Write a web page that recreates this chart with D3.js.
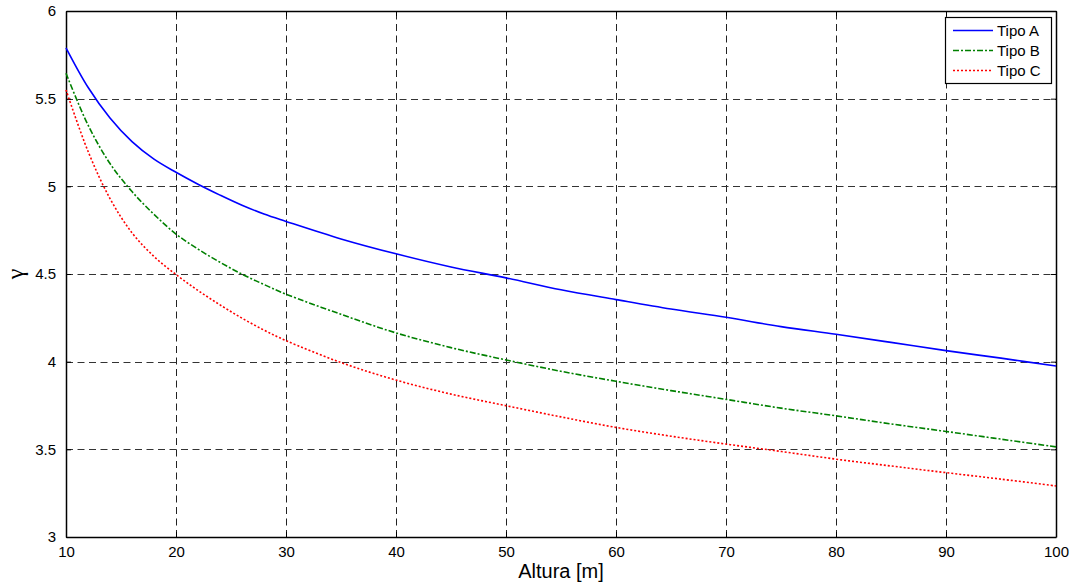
<!DOCTYPE html>
<html>
<head>
<meta charset="utf-8">
<script src="https://cdn.jsdelivr.net/npm/d3@7"></script>
<style>
  body { margin: 0; background: #fff; }
  text { font-family: "Liberation Sans", Arial, sans-serif; }
</style>
</head>
<body>
<div id="chart"></div>
<script>
var width = 1072, height = 586;
var margin = {left: 66, right: 16, top: 11, bottom: 49};

// alturas (m)
var altura = [10, 12, 14, 16, 18, 20, 22, 24, 26, 28, 30, 35, 40, 45, 50, 55, 60, 65, 70, 75, 80, 85, 90, 95, 100];
var tipoA = [5.79, 5.565, 5.39, 5.255, 5.155, 5.08, 5.012, 4.95, 4.892, 4.842, 4.80, 4.70, 4.615, 4.54, 4.478, 4.41, 4.354, 4.30, 4.253, 4.20, 4.156, 4.11, 4.063, 4.02, 3.975];
var tipoB = [5.645, 5.35, 5.13, 4.97, 4.84, 4.728, 4.642, 4.567, 4.499, 4.44, 4.385, 4.27, 4.164, 4.08, 4.01, 3.945, 3.888, 3.835, 3.785, 3.735, 3.691, 3.645, 3.602, 3.558, 3.514];
var tipoC = [5.55, 5.20, 4.93, 4.735, 4.60, 4.497, 4.406, 4.324, 4.248, 4.18, 4.12, 3.995, 3.895, 3.815, 3.749, 3.685, 3.625, 3.575, 3.53, 3.488, 3.444, 3.405, 3.367, 3.33, 3.291];
var xTicks = [10, 20, 30, 40, 50, 60, 70, 80, 90, 100];
var yTicks = [3, 3.5, 4, 4.5, 5, 5.5, 6];
var names = ["Tipo A", "Tipo B", "Tipo C"];

var series = [
  {name: names[0], values: tipoA, color: "#0000ff", dash: null},
  {name: names[1], values: tipoB, color: "#008000", dash: "6,2,2,2"},
  {name: names[2], values: tipoC, color: "#ff0000", dash: "2,2"}
];

var svg = d3.select("#chart").append("svg")
  .attr("width", width)
  .attr("height", height);

var x = d3.scaleLinear().domain([10, 100]).range([margin.left, width - margin.right]);
var y = d3.scaleLinear().domain([3, 6]).range([height - margin.bottom, margin.top]);

// grid
svg.append("g").selectAll("line").data(xTicks.slice(1, -1)).enter().append("line")
  .attr("x1", d => Math.round(x(d)) + 0.5).attr("x2", d => Math.round(x(d)) + 0.5)
  .attr("y1", y(3)).attr("y2", y(6))
  .attr("stroke", "#222").attr("stroke-dasharray", "7,4.5");
svg.append("g").selectAll("line").data(yTicks.slice(1, -1)).enter().append("line")
  .attr("y1", d => Math.round(y(d)) + 0.5).attr("y2", d => Math.round(y(d)) + 0.5)
  .attr("x1", x(10)).attr("x2", x(100))
  .attr("stroke", "#333").attr("stroke-dasharray", "7,4.5");

// axes (ticks inside, like matlab)
var fmt = d3.format("");
svg.append("g").attr("transform", "translate(0," + y(3) + ")")
  .call(d3.axisBottom(x).tickValues(xTicks).tickSizeInner(-5).tickSizeOuter(0).tickPadding(9).tickFormat(fmt));
svg.append("g").attr("transform", "translate(0," + y(6) + ")")
  .call(d3.axisTop(x).tickValues(xTicks).tickSizeInner(-5).tickSizeOuter(0).tickFormat(""));
svg.append("g").attr("transform", "translate(" + x(10) + ",0)")
  .call(d3.axisLeft(y).tickValues(yTicks).tickSizeInner(-5).tickSizeOuter(0).tickPadding(10).tickFormat(fmt));
svg.append("g").attr("transform", "translate(" + x(100) + ",0)")
  .call(d3.axisRight(y).tickValues(yTicks).tickSizeInner(-5).tickSizeOuter(0).tickFormat(""));

svg.selectAll(".domain").attr("stroke", "#000").attr("stroke-width", 1.5);
svg.selectAll(".tick line").attr("stroke", "#000");
svg.selectAll(".tick text").attr("font-size", 15).attr("fill", "#000")
  .style("font-family", "'Liberation Sans', Arial, sans-serif");

// lines
var line = d3.line()
  .x((d, i) => x(altura[i]))
  .y(d => y(d))
  .curve(d3.curveCatmullRom.alpha(0.5));

svg.append("g").selectAll("path").data(series).enter().append("path")
  .attr("d", d => line(d.values))
  .attr("fill", "none")
  .attr("stroke", d => d.color)
  .attr("stroke-width", 1.6)
  .attr("stroke-dasharray", d => d.dash);

// labels
svg.append("text")
  .attr("x", (x(10) + x(100)) / 2).attr("y", 578)
  .attr("text-anchor", "middle").attr("font-size", 20)
  .text("Altura [m]");
svg.append("text")
  .attr("transform", "translate(23," + y(4.5) + ") rotate(-90)")
  .attr("text-anchor", "middle").attr("font-size", 24)
  .style("font-family", "'Liberation Serif', serif")
  .text("γ");

// legend
var lg = svg.append("g").attr("transform", "translate(945,17)");
lg.append("rect").attr("x", 0.5).attr("y", 0.5).attr("width", 106).attr("height", 66)
  .attr("fill", "#fff").attr("stroke", "#000").attr("stroke-width", 1.2);
var item = lg.selectAll("g.item").data(series).enter().append("g")
  .attr("transform", (d, i) => "translate(0," + (13.5 + i * 20) + ")");
item.append("line").attr("x1", 8).attr("x2", 48)
  .attr("stroke", d => d.color).attr("stroke-width", 1.6)
  .attr("stroke-dasharray", d => d.dash);
item.append("text").attr("x", 52).attr("y", 5.5).attr("font-size", 15)
  .text(d => d.name);
</script>
</body>
</html>
